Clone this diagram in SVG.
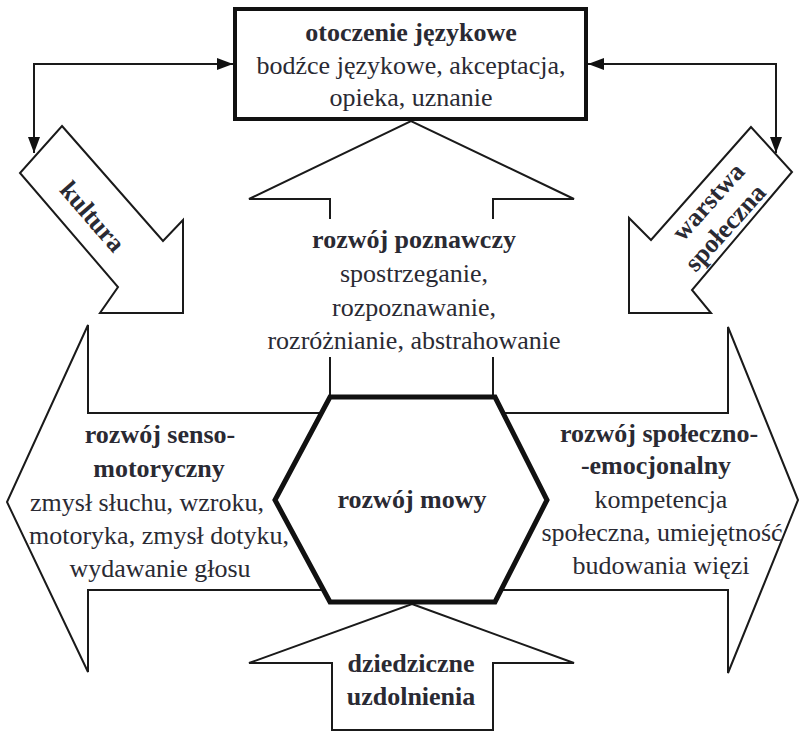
<svg xmlns="http://www.w3.org/2000/svg" width="799" height="734" viewBox="0 0 799 734">
<defs>
<style>
.ln{fill:none;stroke:#1a1a1a;stroke-width:2;stroke-linejoin:miter}
.sh{fill:#fff;stroke:#1a1a1a;stroke-width:2;stroke-linejoin:miter}
.thick{fill:#fff;stroke:#111;stroke-width:5;stroke-linejoin:miter}
.box{fill:#fff;stroke:#111;stroke-width:4}
text{font-family:"Liberation Serif","Times New Roman",serif;font-size:26px;fill:#2a2a33;text-anchor:middle}
.b{font-weight:bold}
</style>
<marker id="ah" markerUnits="userSpaceOnUse" markerWidth="16" markerHeight="12" refX="16" refY="6" orient="auto-start-reverse" viewBox="0 0 16 12">
<path d="M0,0 L16,6 L0,12 z" fill="#111"/>
</marker>
</defs>
<rect width="799" height="734" fill="#fff"/>

<g id="senso">
<polygon class="sh" points="88,325 7,502 88,672 88,590 330,590 330,413 88,413"/>
<text class="b" x="160" y="443">rozwój senso-</text>
<text class="b" x="159" y="477">motoryczny</text>
<text x="147" y="511">zmysł słuchu, wzroku,</text>
<text x="159" y="544">motoryka, zmysł dotyku,</text>
<text x="160" y="577">wydawanie głosu</text>
</g>

<g id="spoleczno">
<polygon class="sh" points="728,327 798,500 728,673 728,590 490,590 490,413 728,413"/>
<text class="b" x="659" y="442">rozwój społeczno-</text>
<text class="b" x="656" y="474">-emocjonalny</text>
<text x="661" y="508">kompetencja</text>
<text x="662" y="541">społeczna, umiejętność</text>
<text x="661" y="574">budowania więzi</text>
</g>

<g id="poznawczy">
<polygon fill="#fff" points="411,121 574,199 493,199 493,397 330,397 330,199 249,199"/>
<polyline class="ln" points="330,219 330,199 249,199 411,121 574,199 493,199 493,219"/>
<line class="ln" x1="330" y1="357" x2="330" y2="397"/>
<line class="ln" x1="493" y1="357" x2="493" y2="397"/>
<text class="b" x="414" y="248">rozwój poznawczy</text>
<text x="414" y="282">spostrzeganie,</text>
<text x="414" y="316">rozpoznawanie,</text>
<text x="414" y="349">rozróżnianie, abstrahowanie</text>
</g>

<g id="dziedziczne">
<polygon class="sh" points="412,604 574,663 493,663 493,730 332,730 332,663 249,663"/>
<text class="b" x="411" y="672">dziedziczne</text>
<text class="b" x="411" y="705">uzdolnienia</text>
</g>

<g id="mowa">
<polygon class="thick" points="330,397 495,397 547,500 495,602 330,602 275,500"/>
<text class="b" x="412" y="508">rozwój mowy</text>
</g>

<g id="kultura">
<polygon class="sh" points="62,126 163,241 183,220 183,313 100,313 118,287 20,173"/>
<text class="b" transform="translate(92,217) rotate(49)" y="8">kultura</text>
</g>

<g id="warstwa">
<polygon class="sh" points="751,127 651,240 629,218 629,313 711,313 692,290 792,172"/>
<text class="b" transform="translate(717,215) rotate(-48)"><tspan x="4" y="-7">warstwa</tspan><tspan x="-4" y="23">społeczna</tspan></text>
</g>

<g id="otoczenie">
<rect class="box" x="235" y="9" width="351" height="110"/>
<text class="b" x="411" y="41">otoczenie językowe</text>
<text x="411" y="74">bodźce językowe, akceptacja,</text>
<text x="411" y="106">opieka, uznanie</text>
</g>

<g id="connectors">
<path class="ln" d="M233,64 H34 V153" marker-start="url(#ah)" marker-end="url(#ah)"/>
<path class="ln" d="M588,64 H776 V153" marker-start="url(#ah)" marker-end="url(#ah)"/>
</g>
</svg>
